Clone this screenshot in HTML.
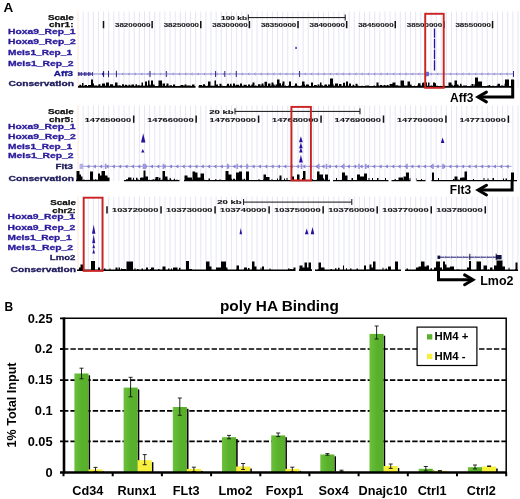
<!DOCTYPE html>
<html><head><meta charset="utf-8"><title>Figure</title>
<style>
html,body{margin:0;padding:0;background:#fff;}
body{width:520px;height:499px;overflow:hidden;font-family:"Liberation Sans", Arial, Helvetica, sans-serif;}
svg{display:block;}
text{font-family:"Liberation Sans", Arial, Helvetica, sans-serif;font-weight:bold;}
.tl{fill:#2a1a9c;font-size:7.6px;stroke:#2a1a9c;stroke-width:0.3px;}
.bl{fill:#111;font-size:7.4px;stroke:#111;stroke-width:0.25px;}
.nm{fill:#1a1a1a;font-size:5.7px;stroke:#1a1a1a;stroke-width:0.12px;}
.cl{fill:#1e1a5c;font-size:7.6px;stroke:#1e1a5c;stroke-width:0.3px;}
.gl{fill:#1a1890;font-size:7.6px;stroke:#1a1890;stroke-width:0.3px;}
.big{fill:#000;font-size:12px;}
</style></head><body>
<svg width="520" height="499" viewBox="0 0 520 499">
<defs>
<linearGradient id="gg" x1="0" y1="0" x2="1" y2="0"><stop offset="0" stop-color="#6cc03c"/><stop offset="0.5" stop-color="#5ab22c"/><stop offset="1" stop-color="#58ae2a"/></linearGradient>
</defs>
<rect width="520" height="499" fill="#fff"/>

<text x="3.4" y="12.4" class="big" style="font-size:13.5px" text-anchor="start">A</text>
<line x1="78.0" y1="11.5" x2="78.0" y2="88" stroke="#fae6d6" stroke-width="1"/>
<path d="M83.12 11.5V88M88.23 11.5V88M93.35 11.5V88M98.46 11.5V88M103.58 11.5V88M108.70 11.5V88M113.81 11.5V88M118.93 11.5V88M124.04 11.5V88M129.16 11.5V88M134.28 11.5V88M139.39 11.5V88M144.51 11.5V88M149.62 11.5V88M154.74 11.5V88M159.86 11.5V88M164.97 11.5V88M170.09 11.5V88M175.20 11.5V88M180.32 11.5V88M185.44 11.5V88M190.55 11.5V88M195.67 11.5V88M200.78 11.5V88M205.90 11.5V88M211.02 11.5V88M216.13 11.5V88M221.25 11.5V88M226.36 11.5V88M231.48 11.5V88M236.60 11.5V88M241.71 11.5V88M246.83 11.5V88M251.94 11.5V88M257.06 11.5V88M262.18 11.5V88M267.29 11.5V88M272.41 11.5V88M277.52 11.5V88M282.64 11.5V88M287.76 11.5V88M292.87 11.5V88M297.99 11.5V88M303.10 11.5V88M308.22 11.5V88M313.34 11.5V88M318.45 11.5V88M323.57 11.5V88M328.68 11.5V88M333.80 11.5V88M338.92 11.5V88M344.03 11.5V88M349.15 11.5V88M354.26 11.5V88M359.38 11.5V88M364.50 11.5V88M369.61 11.5V88M374.73 11.5V88M379.84 11.5V88M384.96 11.5V88M390.08 11.5V88M395.19 11.5V88M400.31 11.5V88M405.42 11.5V88M410.54 11.5V88M415.66 11.5V88M420.77 11.5V88M425.89 11.5V88M431.00 11.5V88M436.12 11.5V88M441.24 11.5V88M446.35 11.5V88M451.47 11.5V88M456.58 11.5V88M461.70 11.5V88M466.82 11.5V88M471.93 11.5V88M477.05 11.5V88M482.16 11.5V88M487.28 11.5V88M492.40 11.5V88M497.51 11.5V88M502.63 11.5V88M507.74 11.5V88M512.86 11.5V88M517.98 11.5V88" stroke="#e5e5f4" stroke-width="1" fill="none"/>
<text x="73.8" y="19.9" class="bl" text-anchor="end" textLength="25.8" lengthAdjust="spacingAndGlyphs">Scale</text>
<text x="73.5" y="27.1" class="bl" text-anchor="end" textLength="24.5" lengthAdjust="spacingAndGlyphs">chr1:</text>
<text x="8" y="33.6" class="tl" text-anchor="start" textLength="67.4" lengthAdjust="spacingAndGlyphs">Hoxa9_Rep_1</text>
<text x="8" y="44.3" class="tl" text-anchor="start" textLength="67.7" lengthAdjust="spacingAndGlyphs">Hoxa9_Rep_2</text>
<text x="8" y="55.1" class="tl" text-anchor="start" textLength="64" lengthAdjust="spacingAndGlyphs">Meis1_Rep_1</text>
<text x="8" y="65.9" class="tl" text-anchor="start" textLength="65.5" lengthAdjust="spacingAndGlyphs">Meis1_Rep_2</text>
<text x="73" y="76.3" class="gl" text-anchor="end" textLength="19.2" lengthAdjust="spacingAndGlyphs">Aff3</text>
<text x="8.5" y="85.6" class="cl" text-anchor="start" textLength="65.5" lengthAdjust="spacingAndGlyphs">Conservation</text>
<text x="247" y="19.8" class="nm" style="font-size:6.2px;stroke:#1a1a1a;stroke-width:0.15px" text-anchor="end" textLength="26" lengthAdjust="spacingAndGlyphs">100 kb</text>
<path d="M248.3 17.6H345.2M248.3 14.5V20.5M345.2 14.5V20.5" stroke="#111" stroke-width="1" fill="none"/>
<path d="M103.5 21V28.3M152.13 21V28.3M200.76 21V28.3M249.39000000000001 21V28.3M298.02 21V28.3M346.65 21V28.3M395.28000000000003 21V28.3M443.91 21V28.3M492.54 21V28.3" stroke="#111" stroke-width="1.5" fill="none"/>
<text x="150.43" y="26.8" class="nm" text-anchor="end" textLength="35.4" lengthAdjust="spacingAndGlyphs">38200000</text>
<text x="199.06" y="26.8" class="nm" text-anchor="end" textLength="35.4" lengthAdjust="spacingAndGlyphs">38250000</text>
<text x="247.69000000000003" y="26.8" class="nm" text-anchor="end" textLength="35.4" lengthAdjust="spacingAndGlyphs">38300000</text>
<text x="296.32" y="26.8" class="nm" text-anchor="end" textLength="35.4" lengthAdjust="spacingAndGlyphs">38350000</text>
<text x="344.95" y="26.8" class="nm" text-anchor="end" textLength="35.4" lengthAdjust="spacingAndGlyphs">38400000</text>
<text x="393.58000000000004" y="26.8" class="nm" text-anchor="end" textLength="35.4" lengthAdjust="spacingAndGlyphs">38450000</text>
<text x="442.21000000000004" y="26.8" class="nm" text-anchor="end" textLength="35.4" lengthAdjust="spacingAndGlyphs">38500000</text>
<text x="490.84000000000003" y="26.8" class="nm" text-anchor="end" textLength="35.4" lengthAdjust="spacingAndGlyphs">38550000</text>
<rect x="295.4" y="46.8" width="1.3" height="2.2" fill="#2a10a0"/>
<path d="M434.5 28.4V37.8M434.5 38.8V48.6M434.5 49.6V59.2M434.5 60.2V70.4" stroke="#2a10a0" stroke-width="1.3" fill="none"/>
<path d="M78.3 74H513.8" stroke="#8a84cc" stroke-width="1.2" fill="none"/>
<path d="M78.4 72.15V75.85M79.9 72.15V75.85M81.6 72.15V75.85M84.4 72.15V75.85M85.9 72.15V75.85M88.4 72.15V75.85M89.9 72.15V75.85M92.5 72.15V75.85M103.6 71.0V77.0M108.5 70.8V77.2M116.4 70.8V77.2M150 71.0V77.0M166.3 71.0V77.0M215.6 71.0V77.0M224.8 71.0V77.0M236.3 71.0V77.0M299.6 71.0V77.0M513.5 71.0V77.0" stroke="#201878" stroke-width="0.95" fill="none"/>
<path d="M101.8 74L104 71V77Z" fill="#201878"/>
<path d="M78 74H93" stroke="#4a40a4" stroke-width="1.2" fill="none"/>
<rect x="426" y="71.8" width="3" height="4.4" fill="#6a6ad0"/>
<path d="M123.4 72.8L122.0 74L123.4 75.2M129.70000000000002 72.8L128.3 74L129.70000000000002 75.2M136.0 72.8L134.6 74L136.0 75.2M142.3 72.8L140.9 74L142.3 75.2M148.6 72.8L147.2 74L148.6 75.2M154.9 72.8L153.5 74L154.9 75.2M161.20000000000002 72.8L159.8 74L161.20000000000002 75.2M167.5 72.8L166.1 74L167.5 75.2M173.8 72.8L172.4 74L173.8 75.2M180.1 72.8L178.7 74L180.1 75.2M186.4 72.8L185.0 74L186.4 75.2M192.70000000000002 72.8L191.3 74L192.70000000000002 75.2M199.0 72.8L197.6 74L199.0 75.2M205.29999999999998 72.8L203.89999999999998 74L205.29999999999998 75.2M211.6 72.8L210.2 74L211.6 75.2M217.9 72.8L216.5 74L217.9 75.2M224.20000000000002 72.8L222.8 74L224.20000000000002 75.2M230.5 72.8L229.1 74L230.5 75.2M236.79999999999998 72.8L235.39999999999998 74L236.79999999999998 75.2M243.1 72.8L241.7 74L243.1 75.2M249.4 72.8L248.0 74L249.4 75.2M255.7 72.8L254.29999999999998 74L255.7 75.2M262.0 72.8L260.6 74L262.0 75.2M268.29999999999995 72.8L266.9 74L268.29999999999995 75.2M274.59999999999997 72.8L273.2 74L274.59999999999997 75.2M280.9 72.8L279.5 74L280.9 75.2M287.19999999999993 72.8L285.79999999999995 74L287.19999999999993 75.2M293.5 72.8L292.1 74L293.5 75.2M299.79999999999995 72.8L298.4 74L299.79999999999995 75.2M306.09999999999997 72.8L304.7 74L306.09999999999997 75.2M312.4 72.8L311.0 74L312.4 75.2M318.69999999999993 72.8L317.29999999999995 74L318.69999999999993 75.2M325.0 72.8L323.6 74L325.0 75.2M331.29999999999995 72.8L329.9 74L331.29999999999995 75.2M337.59999999999997 72.8L336.2 74L337.59999999999997 75.2M343.9 72.8L342.5 74L343.9 75.2M350.19999999999993 72.8L348.79999999999995 74L350.19999999999993 75.2M356.5 72.8L355.1 74L356.5 75.2M362.79999999999995 72.8L361.4 74L362.79999999999995 75.2M369.09999999999997 72.8L367.7 74L369.09999999999997 75.2M375.4 72.8L374.0 74L375.4 75.2M381.7 72.8L380.3 74L381.7 75.2M387.99999999999994 72.8L386.59999999999997 74L387.99999999999994 75.2M394.29999999999995 72.8L392.9 74L394.29999999999995 75.2M400.59999999999997 72.8L399.2 74L400.59999999999997 75.2M406.9 72.8L405.5 74L406.9 75.2M413.2 72.8L411.8 74L413.2 75.2M419.49999999999994 72.8L418.09999999999997 74L419.49999999999994 75.2M425.79999999999995 72.8L424.4 74L425.79999999999995 75.2M432.09999999999997 72.8L430.7 74L432.09999999999997 75.2M438.4 72.8L437.0 74L438.4 75.2M444.7 72.8L443.3 74L444.7 75.2M450.99999999999994 72.8L449.59999999999997 74L450.99999999999994 75.2M457.29999999999995 72.8L455.9 74L457.29999999999995 75.2M463.59999999999997 72.8L462.2 74L463.59999999999997 75.2M469.9 72.8L468.5 74L469.9 75.2M476.2 72.8L474.8 74L476.2 75.2M482.49999999999994 72.8L481.09999999999997 74L482.49999999999994 75.2M488.79999999999995 72.8L487.4 74L488.79999999999995 75.2M495.09999999999997 72.8L493.7 74L495.09999999999997 75.2M501.4 72.8L500.0 74L501.4 75.2M507.7 72.8L506.3 74L507.7 75.2" stroke="#7a72c8" stroke-width="0.6" fill="none"/>
<path d="M78 87.8H78V85.9H78.5V85.7H79V85.4H79.5V84.7H81V85.7H81.5V85.4H82V83H83.5V85.9H84.5V85H87V85.9H88V85H91V79.4H93V83.6H94V85.4H95V85.5H97.5V85.9H98V85.4H98.5V84.3H100.5V85.9H101V85.4H101.5V85.9H102V83.6H105V85.9H105.5V85.4H106V82.6H109V85.7H109.5V85.9H110V84.2H113V85.4H113.5V85.9H114V85.8H115V82.4H117.5V85.4H118V85.7H118.5V85.2H120.5V85.7H121.5V85.9H122V84.2H124V85.9H124.5V85.4H125V84.7H127V85.7H127.5V85.4H128V85.7H128.5V84.7H130.5V85.9H131V85.4H131.5V84.4H134V85.9H134.5V85.7H135.5V84.2H137V85.4H138V85.2H140V85.4H140.5V85.7H141V85.4H141.5V82.4H143V85.8H144V85.7H145V81.4H147V85.4H148V80.4H149.5V84.6H150.5V85.4H151V80.4H153V84.6H154.5V85.4H155V85.9H158V85.7H158.5V80.4H162V85.9H162.5V83.6H165V85.9H165.5V85.7H166V85.4H166.5V83.6H168.5V85.7H169V85.4H169.5V85.7H170V85.2H172V85.9H173V84.6H175V85.9H175.5V85.7H176V85.9H179V85.7H179.5V85.9H180.5V85.1H183V85.4H184V85.7H184.5V84.6H186.5V85.7H187V85.4H187.5V85.6H190.5V85.7H191.5V85.9H192V84.6H194.5V85.9H195.5V87.8H198.5V85.7H199V85H202V85.9H202.5V85.4H203V84.3H205V85.7H205.5V85.4H206V85.9H207.5V85.4H208V81.4H210.5V85.7H211V85.4H211.5V85.7H212V85.8H214.5V80.4H216V84.6H218V85.9H219.5V83.8H221.5V85.7H222V85.4H222.5V85.9H226V85.4H226.5V85.7H227V83.8H229V85.4H229.5V85.7H230V83.8H231.5V85.4H232V85.7H232.5V85.9H233V83.4H235V85.4H236V84.8H239V85.4H239.5V85.9H240V83.4H242V85.4H242.5V85.9H243.5V84.8H246.5V85.4H247V85.9H248V84.6H250V85.9H250.5V85.4H251.5V84.6H252.5V82.4H254.5V85.9H255V85.4H256.5V85.9H257V85.7H257.5V85.9H258V84.3H260.5V85.7H261V85.4H261.5V83.4H263.5V85.4H264V85.9H264.5V81.8H267V85.7H267.5V85.9H268V83.4H270.5V85.9H271V85.4H271.5V82.4H273.5V84.6H274.5V85.4H275V85.9H275.5V84.4H277V79.4H279.5V83.2H281V85.4H282V83.8H282.5V81.4H284.5V85.9H285V85.4H286V85.9H288V85.4H289V81.4H291V85.9H294V85.7H294.5V85.4H295V83.6H297V85.7H297.5V85.4H298V85.7H298.5V85.9H300.5V85.7H301V85.4H302V81.4H304.5V84.6H305V85.4H305.5V85.9H306V84.5H309V85.7H309.5V85.9H311V82.4H313V85.9H314V84.9H316.5V85.4H317V85.9H317.5V84.4H319.5V85.9H320V82.4H321.5V85.2H323V85.9H324V85.4H324.5V84.5H327V85.9H327.5V85.7H328V84.5H330V78.4H333V84.1H333.5V85.4H334V85.9H334.5V85.4H335V83.4H338V85.7H338.5V85.9H339V84H341.5V85.7H342.5V85.9H343V82.8H345V85.9H345.5V85.4H346V81.4H348V85.9H348.5V85.4H349V83.4H351V85.9H351.5V85.7H352V85.9H352.5V84.8H354V85.9H354.5V85.4H355V85.9H355.5V83.8H357.5V85.4H358V85.7H359V85.9H361.5V85.7H362V85.9H362.5V85.4H363V85.9H365V85.4H365.5V85.7H366.5V85.5H368V85.4H369V85.7H369.5V85.9H373.5V85.5H375V85.9H376V85.7H376.5V82.4H378.5V85.4H379V85.7H380V85.1H382V85.4H382.5V85.7H383V85.9H383.5V85H385.5V85.7H386V85.9H386.5V85H388.5V85.7H389V85.9H389.5V84.1H392.5V82.4H395.5V85.4H396V85.2H398.5V85.9H399V85.4H399.5V85.9H400.5V80.4H404V85.2H404.5V85.4H405V85.7H405.5V85.4H406V85.6H407.5V81.4H410V84.6H411.5V85.7H412V85.9H414V85.4H414.5V85.7H415V85.9H417V85.4H418V83.2H420.5V85.4H421V85.7H421.5V85.4H422V83.2H422.5V82.4H424.5V85.7H425V82.4H427V85.7H428V82.4H429.5V85.9H430.5V85.4H432.5V85.9H433V82.4H435V83.2H436V85.4H436.5V85.9H437V85.4H437.5V85.9H440.5V85.7H441V85.9H443.5V85.7H444.5V85.4H445V85.9H447V85.7H447.5V85.9H448.5V82.4H451.5V84.6H452.5V85.4H453.5V85.9H454V84.9H454.5V80.4H457V84.4H458.5V85.4H459V85.9H459.5V85.7H460V83.8H461.5V85.4H462V85.9H463V85.5H466V85.4H467V85.9H470V85.4H470.5V85.7H471V85.9H471.5V84H473.5V85.9H474V85.4H474.5V84H475V77.4H478V81.4H482V85.9H487V85.7H487.5V85.4H488V85.9H488.5V85H490V85.7H491V85.9H492.5V85.4H493.5V85.9H496.5V85.4H497.5V83.8H500V85.7H500.5V85.9H501V85.4H503V85.7H504V85.9H504.5V83.8H505V79.4H509V85.9H510.5V85.7H511V79.4H514V87.8Z" fill="#000"/>
<rect x="425.2" y="13.8" width="18.50000000000001" height="74.0" fill="none" stroke="#cc2222" stroke-width="1.9"/>
<path d="M512.7 80V97H478.2" fill="none" stroke="#000" stroke-width="3" stroke-linejoin="miter"/>
<path d="M486.4 92.1L478.0 97L486.4 101.9" fill="none" stroke="#000" stroke-width="3" stroke-linejoin="miter" stroke-linecap="round"/>
<text x="450" y="101.8" class="big" text-anchor="start">Aff3</text>
<line x1="78.0" y1="105.5" x2="78.0" y2="181" stroke="#fae6d6" stroke-width="1"/>
<path d="M83.12 105.5V181M88.23 105.5V181M93.35 105.5V181M98.46 105.5V181M103.58 105.5V181M108.70 105.5V181M113.81 105.5V181M118.93 105.5V181M124.04 105.5V181M129.16 105.5V181M134.28 105.5V181M139.39 105.5V181M144.51 105.5V181M149.62 105.5V181M154.74 105.5V181M159.86 105.5V181M164.97 105.5V181M170.09 105.5V181M175.20 105.5V181M180.32 105.5V181M185.44 105.5V181M190.55 105.5V181M195.67 105.5V181M200.78 105.5V181M205.90 105.5V181M211.02 105.5V181M216.13 105.5V181M221.25 105.5V181M226.36 105.5V181M231.48 105.5V181M236.60 105.5V181M241.71 105.5V181M246.83 105.5V181M251.94 105.5V181M257.06 105.5V181M262.18 105.5V181M267.29 105.5V181M272.41 105.5V181M277.52 105.5V181M282.64 105.5V181M287.76 105.5V181M292.87 105.5V181M297.99 105.5V181M303.10 105.5V181M308.22 105.5V181M313.34 105.5V181M318.45 105.5V181M323.57 105.5V181M328.68 105.5V181M333.80 105.5V181M338.92 105.5V181M344.03 105.5V181M349.15 105.5V181M354.26 105.5V181M359.38 105.5V181M364.50 105.5V181M369.61 105.5V181M374.73 105.5V181M379.84 105.5V181M384.96 105.5V181M390.08 105.5V181M395.19 105.5V181M400.31 105.5V181M405.42 105.5V181M410.54 105.5V181M415.66 105.5V181M420.77 105.5V181M425.89 105.5V181M431.00 105.5V181M436.12 105.5V181M441.24 105.5V181M446.35 105.5V181M451.47 105.5V181M456.58 105.5V181M461.70 105.5V181M466.82 105.5V181M471.93 105.5V181M477.05 105.5V181M482.16 105.5V181M487.28 105.5V181M492.40 105.5V181M497.51 105.5V181M502.63 105.5V181M507.74 105.5V181M512.86 105.5V181M517.98 105.5V181" stroke="#e5e5f4" stroke-width="1" fill="none"/>
<text x="73.8" y="114" class="bl" text-anchor="end" textLength="25.8" lengthAdjust="spacingAndGlyphs">Scale</text>
<text x="73.5" y="121.5" class="bl" text-anchor="end" textLength="24.5" lengthAdjust="spacingAndGlyphs">chr5:</text>
<text x="8" y="128.5" class="tl" text-anchor="start" textLength="67.4" lengthAdjust="spacingAndGlyphs">Hoxa9_Rep_1</text>
<text x="8" y="138.6" class="tl" text-anchor="start" textLength="67.7" lengthAdjust="spacingAndGlyphs">Hoxa9_Rep_2</text>
<text x="8" y="148.5" class="tl" text-anchor="start" textLength="64" lengthAdjust="spacingAndGlyphs">Meis1_Rep_1</text>
<text x="8" y="158.1" class="tl" text-anchor="start" textLength="65.5" lengthAdjust="spacingAndGlyphs">Meis1_Rep_2</text>
<text x="73" y="169.2" class="cl" text-anchor="end" textLength="17.5" lengthAdjust="spacingAndGlyphs">Flt3</text>
<text x="8.5" y="181.3" class="cl" text-anchor="start" textLength="65.5" lengthAdjust="spacingAndGlyphs">Conservation</text>
<text x="233.5" y="113.7" class="nm" style="font-size:6.2px;stroke:#1a1a1a;stroke-width:0.15px" text-anchor="end" textLength="24.3" lengthAdjust="spacingAndGlyphs">20 kb</text>
<path d="M235 111.4H360M235 108.3V114.3M360 108.3V114.3" stroke="#111" stroke-width="1" fill="none"/>
<path d="M133.7 115.5V122.8M196.14999999999998 115.5V122.8M258.6 115.5V122.8M321.05 115.5V122.8M383.5 115.5V122.8M445.95 115.5V122.8M508.40000000000003 115.5V122.8" stroke="#111" stroke-width="1.5" fill="none"/>
<text x="131.1" y="121.5" class="nm" text-anchor="end" textLength="46.4" lengthAdjust="spacingAndGlyphs">147650000</text>
<text x="193.54999999999998" y="121.5" class="nm" text-anchor="end" textLength="46.4" lengthAdjust="spacingAndGlyphs">147660000</text>
<text x="256.0" y="121.5" class="nm" text-anchor="end" textLength="46.4" lengthAdjust="spacingAndGlyphs">147670000</text>
<text x="318.45" y="121.5" class="nm" text-anchor="end" textLength="46.4" lengthAdjust="spacingAndGlyphs">147680000</text>
<text x="380.9" y="121.5" class="nm" text-anchor="end" textLength="46.4" lengthAdjust="spacingAndGlyphs">147690000</text>
<text x="443.34999999999997" y="121.5" class="nm" text-anchor="end" textLength="46.4" lengthAdjust="spacingAndGlyphs">147700000</text>
<text x="505.8" y="121.5" class="nm" text-anchor="end" textLength="46.4" lengthAdjust="spacingAndGlyphs">147710000</text>
<path d="M143.2 133.3L145.39999999999998 142.6L141.0 142.6Z" fill="#2a10a0"/>
<path d="M142.8 149L144.45000000000002 152.6L141.15 152.6Z" fill="#2a10a0"/>
<path d="M300.9 136.3L302.79999999999995 142.2L299.0 142.2Z" fill="#2a10a0"/>
<path d="M300.9 142.6L302.7 148.2L299.09999999999997 148.2Z" fill="#2a10a0"/>
<path d="M300.9 147.6L302.7 152.4L299.09999999999997 152.4Z" fill="#2a10a0"/>
<path d="M300.9 154.8L302.79999999999995 162.4L299.0 162.4Z" fill="#2a10a0"/>
<path d="M442.6 137.6L444.40000000000003 143L440.8 143Z" fill="#2a10a0"/>
<path d="M81 166.4H511.5" stroke="#b0acdc" stroke-width="1.1" fill="none"/>
<rect x="79.6" y="163.8" width="3.6" height="5.2" fill="#b4b0e8"/>
<path d="M89.50 164.4L86.50 166.4L89.50 168.4ZM95.85 164.4L92.85 166.4L95.85 168.4ZM102.20 164.4L99.20 166.4L102.20 168.4ZM108.55 164.4L105.55 166.4L108.55 168.4ZM114.90 164.4L111.90 166.4L114.90 168.4ZM121.25 164.4L118.25 166.4L121.25 168.4ZM127.60 164.4L124.60 166.4L127.60 168.4ZM133.95 164.4L130.95 166.4L133.95 168.4ZM140.30 164.4L137.30 166.4L140.30 168.4ZM146.65 164.4L143.65 166.4L146.65 168.4ZM153.00 164.4L150.00 166.4L153.00 168.4ZM159.35 164.4L156.35 166.4L159.35 168.4ZM165.70 164.4L162.70 166.4L165.70 168.4ZM172.05 164.4L169.05 166.4L172.05 168.4ZM178.40 164.4L175.40 166.4L178.40 168.4ZM184.75 164.4L181.75 166.4L184.75 168.4ZM191.10 164.4L188.10 166.4L191.10 168.4ZM197.45 164.4L194.45 166.4L197.45 168.4ZM203.80 164.4L200.80 166.4L203.80 168.4ZM210.15 164.4L207.15 166.4L210.15 168.4ZM216.50 164.4L213.50 166.4L216.50 168.4ZM222.85 164.4L219.85 166.4L222.85 168.4ZM229.20 164.4L226.20 166.4L229.20 168.4ZM235.55 164.4L232.55 166.4L235.55 168.4ZM241.90 164.4L238.90 166.4L241.90 168.4ZM248.25 164.4L245.25 166.4L248.25 168.4ZM254.60 164.4L251.60 166.4L254.60 168.4ZM260.95 164.4L257.95 166.4L260.95 168.4ZM267.30 164.4L264.30 166.4L267.30 168.4ZM273.65 164.4L270.65 166.4L273.65 168.4ZM280.00 164.4L277.00 166.4L280.00 168.4ZM286.35 164.4L283.35 166.4L286.35 168.4ZM292.70 164.4L289.70 166.4L292.70 168.4ZM299.05 164.4L296.05 166.4L299.05 168.4ZM305.40 164.4L302.40 166.4L305.40 168.4ZM311.75 164.4L308.75 166.4L311.75 168.4ZM318.10 164.4L315.10 166.4L318.10 168.4ZM324.45 164.4L321.45 166.4L324.45 168.4ZM330.80 164.4L327.80 166.4L330.80 168.4ZM337.15 164.4L334.15 166.4L337.15 168.4ZM343.50 164.4L340.50 166.4L343.50 168.4ZM349.85 164.4L346.85 166.4L349.85 168.4ZM356.20 164.4L353.20 166.4L356.20 168.4ZM362.55 164.4L359.55 166.4L362.55 168.4ZM368.90 164.4L365.90 166.4L368.90 168.4ZM375.25 164.4L372.25 166.4L375.25 168.4ZM381.60 164.4L378.60 166.4L381.60 168.4ZM387.95 164.4L384.95 166.4L387.95 168.4ZM394.30 164.4L391.30 166.4L394.30 168.4ZM400.65 164.4L397.65 166.4L400.65 168.4ZM407.00 164.4L404.00 166.4L407.00 168.4ZM413.35 164.4L410.35 166.4L413.35 168.4ZM419.70 164.4L416.70 166.4L419.70 168.4ZM426.05 164.4L423.05 166.4L426.05 168.4ZM432.40 164.4L429.40 166.4L432.40 168.4ZM438.75 164.4L435.75 166.4L438.75 168.4ZM445.10 164.4L442.10 166.4L445.10 168.4ZM451.45 164.4L448.45 166.4L451.45 168.4ZM457.80 164.4L454.80 166.4L457.80 168.4ZM464.15 164.4L461.15 166.4L464.15 168.4ZM470.50 164.4L467.50 166.4L470.50 168.4ZM476.85 164.4L473.85 166.4L476.85 168.4ZM483.20 164.4L480.20 166.4L483.20 168.4ZM489.55 164.4L486.55 166.4L489.55 168.4ZM495.90 164.4L492.90 166.4L495.90 168.4ZM502.25 164.4L499.25 166.4L502.25 168.4ZM508.60 164.4L505.60 166.4L508.60 168.4Z" fill="#8880cc"/>
<path d="M105.7 163.8V169.0M143.5 163.8V169.0M145.2 163.8V169.0M163.4 163.8V169.0M227.7 163.8V169.0M237.3 163.8V169.0M247 163.8V169.0M301.5 163.8V169.0M318.8 163.8V169.0M326.5 163.8V169.0M343.8 163.8V169.0M359 163.8V169.0M365.8 163.8V169.0M407 163.8V169.0M433 163.8V169.0M443 163.8V169.0" stroke="#9c94dc" stroke-width="1.6" fill="none"/>
<path d="M76 181.3H76V179.7H76.5V171.1H79.5V174.5H81V176.5H82.5V179.9H83V179.7H83.5V179.5H84V179.7H84.5V179.5H85V179.9H86.5V179.7H87.5V179.9H88V179.7H88.5V179.9H89V179.7H89.5V179.9H90V171.5H93V179.5H93.5V179.7H94V179.9H94.5V179.5H95V179.3H96.5V179.9H97V179.7H98V173.5H100V175.5H101.5V171.1H105V175.5H107.5V177.5H109.5V181.3H124V179.9H126V179.3H128V177.5H131.5V179.9H132V179.5H132.5V179.7H133V177.8H134V179.7H134.5V179.9H136V177.8H137.5V179.5H138.5V179.7H139V179.9H140V177.8H141V177.5H143.5V170.5H145.5V176.5H148V179.9H148.5V179.7H149V179.9H149.5V179.5H150V179.9H151.5V179.7H152V179.9H152.5V179.3H154V179.7H154.5V179.5H155V178.8H155.5V177H158.5V179.7H159V177.8H160.5V179.9H161V179.7H161.5V179.9H162V179.5H162.5V171.1H165V176.5H167.5V179.5H168V179.9H168.5V179.7H169V179.9H169.5V178.3H171V179.9H171.5V179.5H172V179.9H173.5V179.5H174V178.8H175V179.9H176.5V179.5H177.5V179.9H179V179.7H179.5V181.3H184V179.9H184.5V175.5H187.5V177.5H192V179.7H192.5V171.5H195V172.5H197.5V177.5H200.5V173.5H204V179.9H204.5V179.5H205V179.9H208.5V178.5H210V179.9H215V179.3H216.5V179.9H219.5V179.3H220.5V179.9H225.5V171.1H228.5V174.5H231.5V178.8H232V179.5H232.5V179.9H233V178.8H235V179.7H235.5V179.9H236V172.5H239V171.5H242V179.3H242.5V179.7H243V179.9H243.5V178.8H245V179.9H245.5V179.7H246V171.5H249V179.9H258.5V178.9H259.5V179.9H263V179.5H263.5V174.5H266V177H269.5V179.9H271.5V179.3H272.5V179.9H277V178.5H278V179.9H279V179.5H279.5V175.5H281.5V179.9H284V178.5H285V179.9H286.5V178.1H287.5V179.9H291V176.5H294V179.9H297V174.5H299.5V179.9H302V178.1H303V171.1H305.5V179.9H311.5V179.3H313V179.9H316.5V179.5H317V171.5H319.5V174.5H323V178.3H324V179.7H325V174.5H328V179.9H329.5V179.3H330V181.3H333V179.9H336V178.1H337V179.9H341.5V179.7H342V172.5H345V175.5H347.5V179.9H351.5V178.1H353V179.9H357V174.5H360V176.5H364V173.5H367V179.9H368.5V178.1H369.5V179.9H372V178.1H373V179.9H377V178.1H378.5V179.9H385V178.1H386V179.9H388.5V181.3H391.5V179.9H394.5V179.3H396V179.9H398.5V177.5H403V179.7H403.5V176.5H406V172.5H409V179.9H409.5V178.3H410.5V181.3H416.5V178.3H417V179.9H421V178.9H422V179.9H425V179.7H425.5V181.3H431.5V179.9H432V172.5H434V179.9H438V178.1H439V179.9H453V178.9H454V179.7H454.5V176.5H457.5V179.7H458.5V179.5H459.5V179.9H460V177.8H461.5V177.5H464.5V171.5H467V179.9H473V178.9H474V179.9H483.5V178.1H484.5V179.9H487.5V178.5H488.5V179.9H492.5V178.1H494V179.9H503V178.5H504V179.9H505.5V178.5H507V179.9H511V172.5H514V179.9H517V181.3Z" fill="#000"/>
<rect x="291.4" y="106.9" width="19.50000000000001" height="73.50000000000001" fill="none" stroke="#cc2222" stroke-width="1.9"/>
<path d="M512.1 179.5V190.1H478.3" fill="none" stroke="#000" stroke-width="3" stroke-linejoin="miter"/>
<path d="M486.5 185.2L478.1 190.1L486.5 195.0" fill="none" stroke="#000" stroke-width="3" stroke-linejoin="miter" stroke-linecap="round"/>
<text x="449.8" y="193.7" class="big" text-anchor="start">Flt3</text>
<line x1="78.0" y1="196.5" x2="78.0" y2="271" stroke="#fae6d6" stroke-width="1"/>
<path d="M83.12 196.5V271M88.23 196.5V271M93.35 196.5V271M98.46 196.5V271M103.58 196.5V271M108.70 196.5V271M113.81 196.5V271M118.93 196.5V271M124.04 196.5V271M129.16 196.5V271M134.28 196.5V271M139.39 196.5V271M144.51 196.5V271M149.62 196.5V271M154.74 196.5V271M159.86 196.5V271M164.97 196.5V271M170.09 196.5V271M175.20 196.5V271M180.32 196.5V271M185.44 196.5V271M190.55 196.5V271M195.67 196.5V271M200.78 196.5V271M205.90 196.5V271M211.02 196.5V271M216.13 196.5V271M221.25 196.5V271M226.36 196.5V271M231.48 196.5V271M236.60 196.5V271M241.71 196.5V271M246.83 196.5V271M251.94 196.5V271M257.06 196.5V271M262.18 196.5V271M267.29 196.5V271M272.41 196.5V271M277.52 196.5V271M282.64 196.5V271M287.76 196.5V271M292.87 196.5V271M297.99 196.5V271M303.10 196.5V271M308.22 196.5V271M313.34 196.5V271M318.45 196.5V271M323.57 196.5V271M328.68 196.5V271M333.80 196.5V271M338.92 196.5V271M344.03 196.5V271M349.15 196.5V271M354.26 196.5V271M359.38 196.5V271M364.50 196.5V271M369.61 196.5V271M374.73 196.5V271M379.84 196.5V271M384.96 196.5V271M390.08 196.5V271M395.19 196.5V271M400.31 196.5V271M405.42 196.5V271M410.54 196.5V271M415.66 196.5V271M420.77 196.5V271M425.89 196.5V271M431.00 196.5V271M436.12 196.5V271M441.24 196.5V271M446.35 196.5V271M451.47 196.5V271M456.58 196.5V271M461.70 196.5V271M466.82 196.5V271M471.93 196.5V271M477.05 196.5V271M482.16 196.5V271M487.28 196.5V271M492.40 196.5V271M497.51 196.5V271M502.63 196.5V271M507.74 196.5V271M512.86 196.5V271M517.98 196.5V271" stroke="#e5e5f4" stroke-width="1" fill="none"/>
<text x="76" y="204.9" class="bl" text-anchor="end" textLength="25.8" lengthAdjust="spacingAndGlyphs">Scale</text>
<text x="75.8" y="212.5" class="bl" text-anchor="end" textLength="23.5" lengthAdjust="spacingAndGlyphs">chr2:</text>
<text x="7.5" y="219.3" class="tl" text-anchor="start" textLength="67.4" lengthAdjust="spacingAndGlyphs">Hoxa9_Rep_1</text>
<text x="7.5" y="230" class="tl" text-anchor="start" textLength="67.7" lengthAdjust="spacingAndGlyphs">Hoxa9_Rep_2</text>
<text x="7.5" y="239.7" class="tl" text-anchor="start" textLength="64" lengthAdjust="spacingAndGlyphs">Meis1_Rep_1</text>
<text x="7.5" y="249.5" class="tl" text-anchor="start" textLength="65.5" lengthAdjust="spacingAndGlyphs">Meis1_Rep_2</text>
<text x="75.3" y="260" class="cl" text-anchor="end" textLength="25.5" lengthAdjust="spacingAndGlyphs">Lmo2</text>
<text x="10.5" y="271.8" class="cl" text-anchor="start" textLength="65.5" lengthAdjust="spacingAndGlyphs">Conservation</text>
<text x="241.5" y="204.4" class="nm" style="font-size:6.2px;stroke:#1a1a1a;stroke-width:0.15px" text-anchor="end" textLength="24.3" lengthAdjust="spacingAndGlyphs">20 kb</text>
<path d="M243.6 202.1H351.8M243.6 199V205M351.8 199V205" stroke="#111" stroke-width="1" fill="none"/>
<path d="M107.0 206.2V213.5M161.04 206.2V213.5M215.07999999999998 206.2V213.5M269.12 206.2V213.5M323.15999999999997 206.2V213.5M377.2 206.2V213.5M431.24 206.2V213.5M485.28 206.2V213.5" stroke="#111" stroke-width="1.5" fill="none"/>
<text x="158.44" y="212.2" class="nm" text-anchor="end" textLength="46.4" lengthAdjust="spacingAndGlyphs">103720000</text>
<text x="212.48" y="212.2" class="nm" text-anchor="end" textLength="46.4" lengthAdjust="spacingAndGlyphs">103730000</text>
<text x="266.52" y="212.2" class="nm" text-anchor="end" textLength="46.4" lengthAdjust="spacingAndGlyphs">103740000</text>
<text x="320.55999999999995" y="212.2" class="nm" text-anchor="end" textLength="46.4" lengthAdjust="spacingAndGlyphs">103750000</text>
<text x="374.59999999999997" y="212.2" class="nm" text-anchor="end" textLength="46.4" lengthAdjust="spacingAndGlyphs">103760000</text>
<text x="428.64" y="212.2" class="nm" text-anchor="end" textLength="46.4" lengthAdjust="spacingAndGlyphs">103770000</text>
<text x="482.67999999999995" y="212.2" class="nm" text-anchor="end" textLength="46.4" lengthAdjust="spacingAndGlyphs">103780000</text>
<path d="M93.7 224.4L95.4 233.8L92.0 233.8Z" fill="#2a10a0"/>
<path d="M93.7 234.4L95.2 243.2L92.2 243.2Z" fill="#2a10a0"/>
<path d="M93.7 243.8L95.0 248.2L92.4 248.2Z" fill="#2a10a0"/>
<path d="M93.7 248.8L95.0 253.4L92.4 253.4Z" fill="#2a10a0"/>
<path d="M240.8 228L242.10000000000002 234.2L239.5 234.2Z" fill="#2a10a0"/>
<path d="M306.7 228.5L308.5 234.2L304.9 234.2Z" fill="#2a10a0"/>
<path d="M312.5 227L314.3 234.2L310.7 234.2Z" fill="#2a10a0"/>
<path d="M440 257.2H496" stroke="#1c1870" stroke-width="1" fill="none" stroke-dasharray="4.6 1.4"/>
<rect x="437.5" y="255.6" width="2.7" height="3.4" fill="#111040"/>
<rect x="496" y="255" width="5.6" height="4.4" fill="#111040"/>
<path d="M469.8 253.8V260M496.2 253.6V260.2" stroke="#111040" stroke-width="1" fill="none"/>
<path d="M444.8 256.2L446 257.2L444.8 258.2M450.8 256.2L452 257.2L450.8 258.2M456.8 256.2L458 257.2L456.8 258.2M462.8 256.2L464 257.2L462.8 258.2M468.8 256.2L470 257.2L468.8 258.2M474.8 256.2L476 257.2L474.8 258.2M480.8 256.2L482 257.2L480.8 258.2M486.8 256.2L488 257.2L486.8 258.2M492.8 256.2L494 257.2L492.8 258.2" stroke="#1c1870" stroke-width="0.7" fill="none"/>
<path d="M77 271H77V269.6H78.5V269.2H79V267.5H80.5V264.5H83V269.6H91V261.1H95V269.6H98V267.5H100V269.6H104V268.6H105.5V269.6H109.5V268.6H110.5V269.6H115.5V267.5H117.5V269.2H118V269.4H118.5V267.5H120V269.4H120.5V269.6H121V268.5H122V269H126V269.4H126.5V261.5H133V269.6H134.5V268.2H135.5V269.6H137V269H138.5V269.6H141.5V268.6H143V269.6H145.5V269.2H146V267.5H148V269.6H148.5V269.2H149V269.4H150V269H151V267.5H154V269.6H158V269H159.5V269.6H162.5V266.5H165.5V269.6H168V268.6H169.5V269.6H171V268.6H172V269.6H172.5V269.4H173V267.5H177.5V269.6H179V267.8H180.5V269.6H186V261.1H189V269H192V269.6H206V261.5H209.5V266.5H211.5V269.6H212V269.4H212.5V269.2H213V269.4H214V269.6H215V269.4H215.5V269.6H216V267.5H221V261.5H226V267.5H227.5V269.6H236V269.2H236.5V265.5H239V269.6H243.5V269.2H244V267.5H247V269.2H247.5V269.6H248V268H249.5V269.6H250V269.4H250.5V269.6H251V269.2H251.5V269.6H252V261.5H254.5V266.5H256.5V269.6H260.5V267.8H261.5V269.6H262V266.5H264V269.6H269.5V268.6H270.5V269.6H288V268.6H289.5V269.2H290V269H292V269.6H292.5V269H293.5V267.5H295.5V271H299V269.2H299.5V265.5H302.5V267.5H304.5V262.5H307V267.5H308.5V262.5H311V269.6H311.5V269H312V271H315V269.4H315.5V269.2H316V269.6H317V269.2H317.5V269.6H318V269.2H318.5V262.5H321V267.5H324.5V269.4H325V269.6H330.5V269H332V269.6H335V268.2H336.5V269.6H338V267.8H339.5V269.6H342.5V269.4H343V265.5H344V269.6H346V268.2H347V269.6H350V268.6H351.5V269.6H356.5V268.6H358V269.6H364V265.5H366V269.4H366.5V269.6H367V269.4H367.5V269.2H368V269.4H368.5V269.2H369V269.6H369.5V264.5H371.5V267.5H373V261.5H375.5V269.6H382.5V267.8H383.5V269.6H385.5V268.6H387V269.6H388V266.5H391V269.6H395V261.5H398V269.6H401V271H405V269.6H406.5V268.6H408V269.6H415.5V269.2H416V267.5H418.5V266.5H421V261.5H424.5V266.5H426.5V265.5H429V269.6H430.5V268.2H432V269.6H433.5V269.2H434V267.5H436V261.5H440V267.5H442V269.6H442.5V269.2H443V261.5H445V264.5H446.5V267.5H450V266.5H454V269.2H454.5V269.6H456V269.4H456.5V269.2H457V269.6H457.5V269H458.5V269.6H459V269.2H459.5V269.4H460V269.6H461V269.2H461.5V269.6H463V269.4H464V269.6H465V269.4H466V269.2H466.5V269.6H467V267.5H469V261H471V269.6H471.5V269.2H472V269.6H473.5V269.4H474V269.6H475V269.2H475.5V269.6H476V269.4H476.5V261.5H481V269.2H481.5V269.6H482V269.2H483V269.6H483.5V265.5H487V269.6H487.5V269.4H488V269.2H489V269.4H490V267.5H492.5V269.6H494V265.5H496.5V260.5H502.5V266.5H505V269.6H508.5V267.8H509.5V269.6H515V269H515.5V262.5H517.5V269.6H518V271Z" fill="#000"/>
<rect x="83.7" y="197.70000000000002" width="18.800000000000008" height="73.2" fill="none" stroke="#cc2222" stroke-width="1.9"/>
<path d="M438.5 264V279.8H472.8" fill="none" stroke="#000" stroke-width="3" stroke-linejoin="miter"/>
<path d="M464.6 274.90000000000003L473.0 279.8L464.6 284.7" fill="none" stroke="#000" stroke-width="3" stroke-linejoin="miter" stroke-linecap="round"/>
<text transform="translate(480.2,284.8) scale(1.04,1)" class="big" style="font-size:12px" text-anchor="start">Lmo2</text>
<text x="4.4" y="311.3" class="big" text-anchor="start">B</text>
<text transform="translate(279.4,311) scale(1.025,1)" class="big" style="font-size:15px" text-anchor="middle">poly HA Binding</text>
<line x1="64.0" y1="441.3" x2="506.2" y2="441.3" stroke="#000" stroke-width="1.7" stroke-dasharray="5.4 2.03" stroke-dashoffset="1"/>
<line x1="64.0" y1="410.8" x2="506.2" y2="410.8" stroke="#000" stroke-width="1.7" stroke-dasharray="5.4 2.03" stroke-dashoffset="1"/>
<line x1="64.0" y1="380.1" x2="506.2" y2="380.1" stroke="#000" stroke-width="1.7" stroke-dasharray="5.4 2.03" stroke-dashoffset="1"/>
<line x1="64.0" y1="349.0" x2="506.2" y2="349.0" stroke="#000" stroke-width="1.7" stroke-dasharray="5.4 2.03" stroke-dashoffset="1"/>
<rect x="88.5" y="375.3" width="1.6" height="97.1" fill="#000"/>
<rect x="102.6" y="471.4" width="1.6" height="1.1" fill="#000"/>
<rect x="74.4" y="373.5" width="14.1" height="98.9" fill="url(#gg)"/>
<rect x="88.5" y="469.4" width="14.1" height="3.1" fill="#f6f03c"/>
<path d="M81.5 368.2V378.8M79.5 368.2H83.5M79.5 378.8H83.5" stroke="#111" stroke-width="0.9" fill="none"/>
<path d="M95.5 467.4V471.6M93.5 467.4H97.5M93.5 471.6H97.5" stroke="#111" stroke-width="0.9" fill="none"/>
<rect x="137.7" y="389.4" width="1.6" height="83.0" fill="#000"/>
<rect x="151.8" y="462.2" width="1.6" height="10.2" fill="#000"/>
<rect x="123.6" y="387.6" width="14.1" height="84.8" fill="url(#gg)"/>
<rect x="137.7" y="460.2" width="14.1" height="12.2" fill="#f6f03c"/>
<path d="M130.6 377.3V396.8M128.6 377.3H132.6M128.6 396.8H132.6" stroke="#111" stroke-width="0.9" fill="none"/>
<path d="M144.7 454.6V464.7M142.7 454.6H146.7M142.7 464.7H146.7" stroke="#111" stroke-width="0.9" fill="none"/>
<rect x="186.9" y="408.8" width="1.6" height="63.6" fill="#000"/>
<rect x="201.0" y="470.9" width="1.6" height="1.6" fill="#000"/>
<rect x="172.8" y="407.0" width="14.1" height="65.4" fill="url(#gg)"/>
<rect x="186.9" y="468.9" width="14.1" height="3.6" fill="#f6f03c"/>
<path d="M179.8 398V415.3M177.8 398H181.8M177.8 415.3H181.8" stroke="#111" stroke-width="0.9" fill="none"/>
<path d="M193.9 467.2V471.6M191.9 467.2H195.9M191.9 471.6H195.9" stroke="#111" stroke-width="0.9" fill="none"/>
<rect x="236.1" y="439.0" width="1.6" height="33.5" fill="#000"/>
<rect x="250.2" y="468.5" width="1.6" height="3.9" fill="#000"/>
<rect x="222.0" y="437.2" width="14.1" height="35.2" fill="url(#gg)"/>
<rect x="236.1" y="466.5" width="14.1" height="5.9" fill="#f6f03c"/>
<path d="M229.0 435.4V438.8M227.0 435.4H231.0M227.0 438.8H231.0" stroke="#111" stroke-width="0.9" fill="none"/>
<path d="M243.1 463.5V469.5M241.1 463.5H245.1M241.1 469.5H245.1" stroke="#111" stroke-width="0.9" fill="none"/>
<rect x="285.3" y="437.2" width="1.6" height="35.3" fill="#000"/>
<rect x="299.4" y="470.9" width="1.6" height="1.6" fill="#000"/>
<rect x="271.2" y="435.4" width="14.1" height="37.1" fill="url(#gg)"/>
<rect x="285.3" y="468.9" width="14.1" height="3.6" fill="#f6f03c"/>
<path d="M278.2 433V436.6M276.2 433H280.2M276.2 436.6H280.2" stroke="#111" stroke-width="0.9" fill="none"/>
<path d="M292.3 467.2V471.6M290.3 467.2H294.3M290.3 471.6H294.3" stroke="#111" stroke-width="0.9" fill="none"/>
<rect x="334.4" y="456.3" width="1.6" height="16.1" fill="#000"/>
<rect x="320.3" y="454.5" width="14.1" height="17.9" fill="url(#gg)"/>
<rect x="334.4" y="471.6" width="14.1" height="0.8" fill="#f6f03c"/>
<path d="M327.4 453.6V455.2M325.4 453.6H329.4M325.4 455.2H329.4" stroke="#111" stroke-width="0.9" fill="none"/>
<path d="M341.5 470.2V471.4M339.5 470.2H343.5M339.5 471.4H343.5" stroke="#111" stroke-width="0.9" fill="none"/>
<rect x="383.6" y="335.7" width="1.6" height="136.8" fill="#000"/>
<rect x="397.7" y="468.0" width="1.6" height="4.4" fill="#000"/>
<rect x="369.5" y="333.9" width="14.1" height="138.6" fill="url(#gg)"/>
<rect x="383.6" y="466.0" width="14.1" height="6.4" fill="#f6f03c"/>
<path d="M376.6 326V339M374.6 326H378.6M374.6 339H378.6" stroke="#111" stroke-width="0.9" fill="none"/>
<path d="M390.7 464V468.4M388.7 464H392.7M388.7 468.4H392.7" stroke="#111" stroke-width="0.9" fill="none"/>
<rect x="432.8" y="470.6" width="1.6" height="1.8" fill="#000"/>
<rect x="418.7" y="468.8" width="14.1" height="3.6" fill="url(#gg)"/>
<rect x="432.8" y="470.8" width="14.1" height="1.6" fill="#f6f03c"/>
<path d="M425.8 466.5V471M423.8 466.5H427.8M423.8 471H427.8" stroke="#111" stroke-width="0.9" fill="none"/>
<path d="M439.9 470.6V471.2M437.9 470.6H441.9M437.9 471.2H441.9" stroke="#111" stroke-width="0.9" fill="none"/>
<rect x="482.0" y="469.0" width="1.6" height="3.5" fill="#000"/>
<rect x="496.1" y="468.5" width="1.6" height="3.9" fill="#000"/>
<rect x="467.9" y="467.2" width="14.1" height="5.2" fill="url(#gg)"/>
<rect x="482.0" y="466.5" width="14.1" height="5.9" fill="#f6f03c"/>
<path d="M475.0 465V468.9M473.0 465H477.0M473.0 468.9H477.0" stroke="#111" stroke-width="0.9" fill="none"/>
<path d="M489.1 466V466.4M487.1 466H491.1M487.1 466.4H491.1" stroke="#111" stroke-width="0.9" fill="none"/>
<path d="M64.0 318.2H506.2V472.45" fill="none" stroke="#000" stroke-width="1.5"/>
<path d="M64.0 317.5V473.65" fill="none" stroke="#000" stroke-width="2.6"/>
<path d="M60 472.45H507.0" fill="none" stroke="#000" stroke-width="2.5"/>
<path d="M60 441.3H64.0M60 410.8H64.0M60 380.1H64.0M60 349.0H64.0M60 318.3H64.0" stroke="#000" stroke-width="1.8" fill="none"/>
<path d="M63.5 472.45V476.25M112.7 472.45V476.25M161.9 472.45V476.25M211.1 472.45V476.25M260.3 472.45V476.25M309.4 472.45V476.25M358.6 472.45V476.25M407.8 472.45V476.25M457.0 472.45V476.25M506.2 472.45V476.25" stroke="#000" stroke-width="2" fill="none"/>
<text transform="translate(52.6,476.7) scale(1.07,1)" class="big" style="font-size:12px" text-anchor="end">0</text>
<text transform="translate(52.6,445.5) scale(1.07,1)" class="big" style="font-size:12px" text-anchor="end">0.05</text>
<text transform="translate(52.6,415.0) scale(1.07,1)" class="big" style="font-size:12px" text-anchor="end">0.1</text>
<text transform="translate(52.6,384.3) scale(1.07,1)" class="big" style="font-size:12px" text-anchor="end">0.15</text>
<text transform="translate(52.6,353.2) scale(1.07,1)" class="big" style="font-size:12px" text-anchor="end">0.2</text>
<text transform="translate(52.6,322.5) scale(1.07,1)" class="big" style="font-size:12px" text-anchor="end">0.25</text>
<text transform="translate(16,405) rotate(-90) scale(1.05,1)" class="big" text-anchor="middle">1% Total Input</text>
<text transform="translate(87.79444444444445,495) scale(1.06,1)" class="big" style="font-size:12px" text-anchor="middle">Cd34</text>
<text transform="translate(136.98333333333332,495) scale(1.06,1)" class="big" style="font-size:12px" text-anchor="middle">Runx1</text>
<text transform="translate(186.17222222222222,495) scale(1.06,1)" class="big" style="font-size:12px" text-anchor="middle">FLt3</text>
<text transform="translate(235.36111111111111,495) scale(1.06,1)" class="big" style="font-size:12px" text-anchor="middle">Lmo2</text>
<text transform="translate(284.55,495) scale(1.06,1)" class="big" style="font-size:12px" text-anchor="middle">Foxp1</text>
<text transform="translate(333.7388888888889,495) scale(1.06,1)" class="big" style="font-size:12px" text-anchor="middle">Sox4</text>
<text transform="translate(382.92777777777775,495) scale(1.06,1)" class="big" style="font-size:12px" text-anchor="middle">Dnajc10</text>
<text transform="translate(432.1166666666667,495) scale(1.06,1)" class="big" style="font-size:12px" text-anchor="middle">Ctrl1</text>
<text transform="translate(481.30555555555554,495) scale(1.06,1)" class="big" style="font-size:12px" text-anchor="middle">Ctrl2</text>
<rect x="417.1" y="327.1" width="59.8" height="38.4" fill="#fff" stroke="#000" stroke-width="1.2"/>
<rect x="427" y="334.2" width="5.3" height="5.3" fill="#5ab22c"/>
<rect x="427" y="353.8" width="5.3" height="5.3" fill="#f6f03c"/>
<text transform="translate(434.6,340.1) scale(1.13,1)" class="big" style="font-size:10.1px" text-anchor="start">HM4 +</text>
<text transform="translate(434.6,359.7) scale(1.13,1)" class="big" style="font-size:10.1px" text-anchor="start">HM4 -</text>
</svg></body></html>
